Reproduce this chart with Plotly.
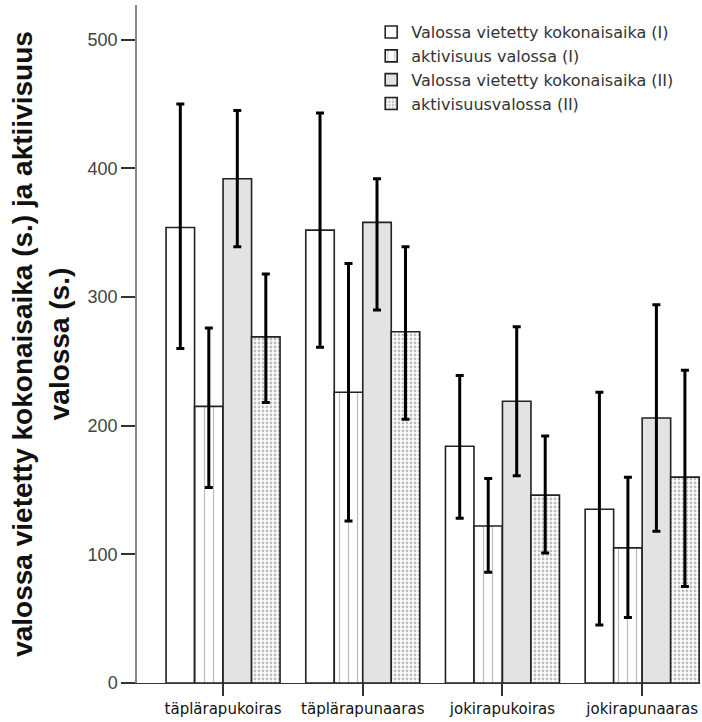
import plotly.graph_objects as go

categories = ["täplärapukoiras", "täplärapunaaras", "jokirapukoiras", "jokirapunaaras"]
series_names = [
    "Valossa vietetty kokonaisaika (I)",
    "aktivisuus valossa (I)",
    "Valossa vietetty kokonaisaika (II)",
    "aktivisuusvalossa (II)",
]
means = [
    [354, 352, 184, 135],
    [215, 226, 122, 105],
    [392, 358, 219, 206],
    [269, 273, 146, 160],
]
upper = [
    [450, 443, 239, 226],
    [276, 326, 159, 160],
    [445, 392, 277, 294],
    [318, 339, 192, 243],
]
lower = [
    [260, 261, 128, 45],
    [152, 126, 86, 51],
    [339, 290, 161, 118],
    [218, 205, 101, 75],
]
y_ticks = [0, 100, 200, 300, 400, 500]

fills = ["white", "white", "#e3e3e3", "white"]
patterns = [
    dict(shape=""),
    dict(shape="|", fgcolor="#777777", bgcolor="white", size=9, solidity=0.13),
    dict(shape=""),
    dict(shape=".", fgcolor="#7a7a7a", bgcolor="white", size=4, solidity=0.4),
]

fig = go.Figure()
for i, name in enumerate(series_names):
    fig.add_trace(go.Bar(
        x=categories, y=means[i], name=name,
        marker=dict(color=fills[i], line=dict(color="#222222", width=1.6), pattern=patterns[i]),
        error_y=dict(
            type="data", symmetric=False,
            array=[u - m for u, m in zip(upper[i], means[i])],
            arrayminus=[m - l for m, l in zip(means[i], lower[i])],
            color="black", thickness=3, width=4,
        ),
    ))

fig.update_layout(
    width=702, height=722,
    margin=dict(l=137, r=2, t=5, b=39),
    paper_bgcolor="white", plot_bgcolor="white",
    barmode="group", bargap=0.184, bargroupgap=0,
    font=dict(family="Liberation Sans, Arial, sans-serif", color="#333333"),
    legend=dict(
        x=0.416, y=0.985, xanchor="left", yanchor="top",
        font=dict(family="DejaVu Sans", size=16, color="#333333"),
        bgcolor="rgba(0,0,0,0)", traceorder="normal",
    ),
    xaxis=dict(
        range=[-0.616, 3.414], showline=True, linecolor="#333333", linewidth=1,
        ticks="outside", ticklen=12, tickcolor="#333333", tickwidth=1.5,
        tickfont=dict(family="DejaVu Sans", size=15, color="#111111"),
        showgrid=False, zeroline=False,
    ),
    yaxis=dict(
        range=[0, 527], tickvals=y_ticks, showline=True, linecolor="#888888", linewidth=1.5,
        ticks="outside", ticklen=14, tickcolor="#333333", tickwidth=1.5,
        tickfont=dict(family="Liberation Sans", size=18, color="#444444"),
        showgrid=False, zeroline=False,
        title=dict(
            text="<b>valossa vietetty kokonaisaika (s.) ja aktiivisuus<br>valossa (s.)</b>",
            font=dict(family="Liberation Sans", size=28, color="#111111"),
            standoff=10,
        ),
    ),
)

fig.write_html("out.html")
